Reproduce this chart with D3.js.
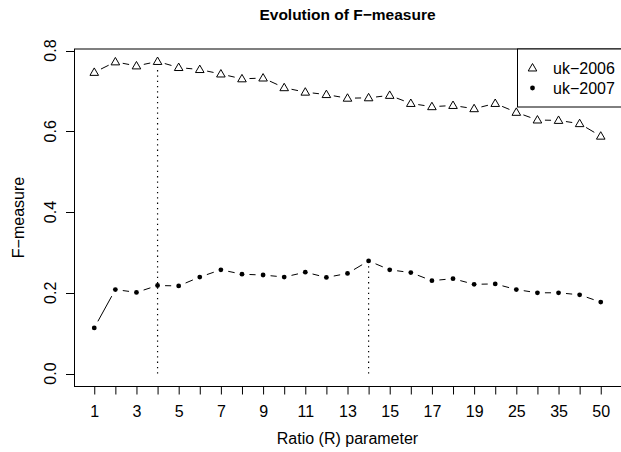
<!DOCTYPE html>
<html>
<head>
<meta charset="utf-8">
<script src="https://cdn.jsdelivr.net/npm/d3@7"></script>
<style>
  body { margin: 0; background: #fff; }
  svg { display: block; font-family: "Liberation Sans", Arial, Helvetica, sans-serif; }
</style>
</head>
<body>
<div id="chart"></div>
<script>
// Ratio (R) values along the x axis (one position each)
var ratios = [1, 2, 3, 4, 5, 6, 7, 8, 9, 10, 11, 12, 13, 14, 15, 16, 17, 18, 19, 20, 25, 30, 35, 40, 50];

// F-measure series
var uk2006 = [0.746, 0.772, 0.762, 0.773, 0.758, 0.753, 0.742, 0.730, 0.732, 0.708, 0.697, 0.691,
              0.682, 0.683, 0.689, 0.669, 0.661, 0.664, 0.656, 0.669, 0.647, 0.628, 0.627, 0.619, 0.588];
var uk2007 = [0.113, 0.208, 0.201, 0.218, 0.217, 0.239, 0.257, 0.246, 0.244, 0.239, 0.251, 0.238,
              0.248, 0.279, 0.257, 0.250, 0.230, 0.235, 0.221, 0.222, 0.208, 0.200, 0.200, 0.195, 0.177];

var yTicks = [0.0, 0.2, 0.4, 0.6, 0.8];
var seriesNames = ["uk\u22122006", "uk\u22122007"];

// SVG dimensions
var svgWidth = 621, svgHeight = 452;
var plot = { left: 74, right: 621, top: 49, bottom: 386 };

var svg = d3.select("#chart").append("svg")
  .attr("width", svgWidth)
  .attr("height", svgHeight);

// Scales (R style 4% padding)
var n = ratios.length;
var xScale = d3.scaleLinear()
  .domain([1 - 0.04 * (n - 1), n + 0.04 * (n - 1)])
  .range([plot.left, plot.right]);

var ymax = d3.max(uk2006.concat(uk2007));
var yScale = d3.scaleLinear()
  .domain([-0.04 * ymax, ymax * 1.04])
  .range([plot.bottom, plot.top]);

// Box
svg.append("rect")
  .attr("x", plot.left + 0.5)
  .attr("y", plot.top)
  .attr("width", plot.right - plot.left + 5)
  .attr("height", plot.bottom - plot.top + 0.5)
  .attr("fill", "none")
  .attr("stroke", "#000");

// X axis
var xAxis = d3.axisBottom(xScale)
  .tickValues(d3.range(1, n + 1))
  .tickSize(8)
  .tickPadding(4)
  .tickFormat(function(d, i) { return i % 2 === 0 ? ratios[i] : ""; });

var gx = svg.append("g")
  .attr("transform", "translate(0," + (plot.bottom + 0.5) + ")")
  .call(xAxis);
gx.select(".domain").remove();
gx.selectAll("line").attr("stroke", "#000");
gx.selectAll("text")
  .attr("font-size", 16)
  .attr("font-family", null)
  .attr("fill", "#000")
  .attr("dy", null)
  .attr("y", 30);

// Y axis
var gy = svg.append("g");
gy.selectAll("line")
  .data(yTicks).enter()
  .append("line")
  .attr("x1", plot.left - 8)
  .attr("x2", plot.left)
  .attr("y1", function(d) { return Math.round(yScale(d)) + 0.5; })
  .attr("y2", function(d) { return Math.round(yScale(d)) + 0.5; })
  .attr("stroke", "#000");
gy.selectAll("text")
  .data(yTicks).enter()
  .append("text")
  .attr("transform", function(d) { return "translate(56," + yScale(d) + ") rotate(-90)"; })
  .attr("text-anchor", "middle")
  .attr("font-size", 16)
  .text(function(d) { return d.toFixed(1); });

// Dotted markers at the maximum of each series
var max06 = d3.maxIndex(uk2006);
var max07 = d3.maxIndex(uk2007);
[[max06, uk2006[max06]], [max07, uk2007[max07]]].forEach(function(m) {
  svg.append("line")
    .attr("x1", xScale(m[0] + 1))
    .attr("x2", xScale(m[0] + 1))
    .attr("y1", yScale(0))
    .attr("y2", yScale(m[1]) + 5)
    .attr("stroke", "#000")
    .attr("stroke-width", 1.2)
    .attr("stroke-dasharray", "1.3,4");
});

// Lines with gaps around points (R type = "b")
function drawGappedLine(values) {
  var gap = 7.5;
  for (var i = 0; i < values.length - 1; i++) {
    var x1 = xScale(i + 1), y1 = yScale(values[i]);
    var x2 = xScale(i + 2), y2 = yScale(values[i + 1]);
    var len = Math.sqrt((x2 - x1) * (x2 - x1) + (y2 - y1) * (y2 - y1));
    if (len <= 2 * gap) continue;
    var ux = (x2 - x1) / len, uy = (y2 - y1) / len;
    svg.append("line")
      .attr("x1", x1 + ux * gap)
      .attr("y1", y1 + uy * gap)
      .attr("x2", x2 - ux * gap)
      .attr("y2", y2 - uy * gap)
      .attr("stroke", "#000")
      .attr("stroke-width", 1);
  }
}
drawGappedLine(uk2006);
drawGappedLine(uk2007);

var triangle = d3.symbol().type(d3.symbolTriangle).size(32);

svg.selectAll(".tri")
  .data(uk2006).enter()
  .append("path")
  .attr("class", "tri")
  .attr("d", triangle)
  .attr("transform", function(d, i) { return "translate(" + xScale(i + 1) + "," + (yScale(d) + 0.5) + ")"; })
  .attr("fill", "none")
  .attr("stroke", "#000")
  .attr("stroke-width", 1);

svg.selectAll(".dot")
  .data(uk2007).enter()
  .append("circle")
  .attr("class", "dot")
  .attr("cx", function(d, i) { return xScale(i + 1); })
  .attr("cy", function(d) { return yScale(d); })
  .attr("r", 2.4)
  .attr("fill", "#000");

// Legend
var legend = svg.append("g");
legend.append("rect")
  .attr("x", 517.5)
  .attr("y", plot.top)
  .attr("width", 120)
  .attr("height", 58)
  .attr("fill", "#fff")
  .attr("stroke", "#000");
legend.append("path")
  .attr("d", triangle)
  .attr("transform", "translate(532.5,68.5)")
  .attr("fill", "none")
  .attr("stroke", "#000");
legend.append("circle")
  .attr("cx", 532.5)
  .attr("cy", 88)
  .attr("r", 2.4)
  .attr("fill", "#000");
legend.selectAll("text")
  .data(seriesNames).enter()
  .append("text")
  .attr("x", 553)
  .attr("y", function(d, i) { return 74 + i * 19.5; })
  .attr("font-size", 16)
  .text(function(d) { return d; });

// Titles
svg.append("text")
  .attr("x", (plot.left + plot.right) / 2)
  .attr("y", 20)
  .attr("text-anchor", "middle")
  .attr("font-size", 15.5)
  .attr("font-weight", "bold")
  .text("Evolution of F\u2212measure");

svg.append("text")
  .attr("x", (plot.left + plot.right) / 2)
  .attr("y", 444)
  .attr("text-anchor", "middle")
  .attr("font-size", 16)
  .text("Ratio (R) parameter");

svg.append("text")
  .attr("transform", "translate(24," + (plot.top + plot.bottom) / 2 + ") rotate(-90)")
  .attr("text-anchor", "middle")
  .attr("font-size", 16)
  .text("F\u2212measure");
</script>
</body>
</html>
